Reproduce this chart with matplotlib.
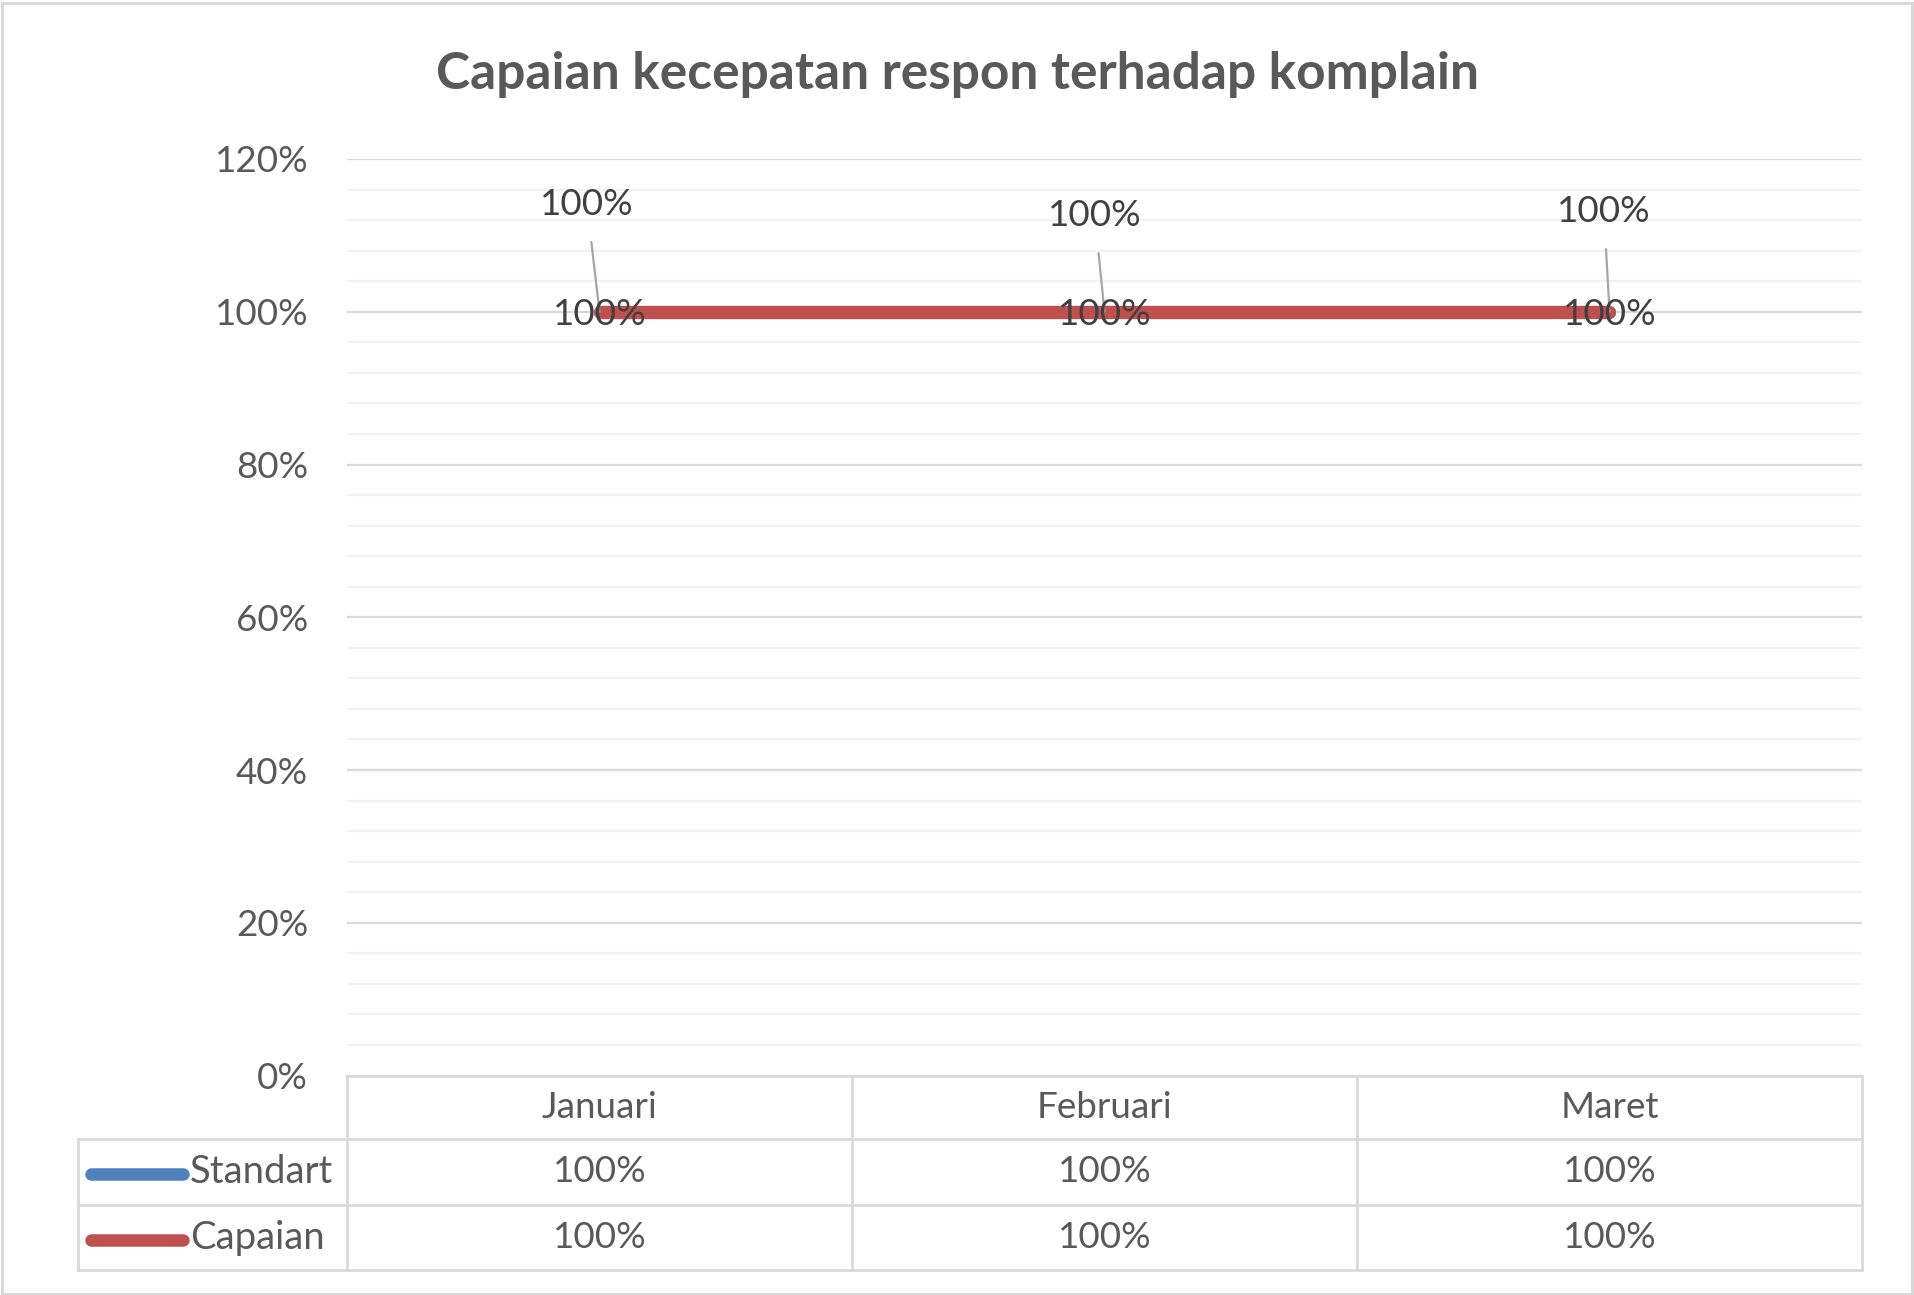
import numpy as np
import matplotlib
matplotlib.use("Agg")
import matplotlib.pyplot as plt
from matplotlib.lines import Line2D
from matplotlib.patches import Rectangle

plt.rcParams['font.family'] = ['Lato', 'DejaVu Sans']

months = ['Januari', 'Februari', 'Maret']
standart = [1.00, 1.00, 1.00]
capaian = [1.00, 1.00, 1.00]
series_names = ['Standart', 'Capaian']
series_colors = ['#4F81BD', '#C0504D']

W, H = 1914, 1295
fig = plt.figure(figsize=(W / 100, H / 100), dpi=100)

def fx(px):
    return px / W

def fy(py):
    return 1 - py / H

fs = 26.5
left, right, top, bottom = 347, 1862, 159, 1075.5
ax = fig.add_axes([fx(left), fy(bottom), fx(right - left), (bottom - top) / H])

x = np.arange(len(months))
ax.plot(x, standart, color=series_colors[0], lw=9.5, solid_capstyle='round', zorder=3)
ax.plot(x, capaian, color=series_colors[1], lw=9.5, solid_capstyle='round', zorder=4)

ax.set_xlim(-0.5, len(months) - 0.5)
ax.set_ylim(0, 1.2)
ax.set_yticks(np.arange(0, 1.21, 0.2))
ax.set_yticklabels([f'{int(round(v * 100))}%' for v in np.arange(0, 1.21, 0.2)])
ax.set_yticks(np.arange(0, 1.21, 0.04), minor=True)
ax.tick_params(axis='y', which='both', length=0, pad=28, labelsize=fs, labelcolor='#595959')
ax.tick_params(axis='x', length=0, labelbottom=False)
ax.grid(axis='y', which='major', color='#D9D9D9', lw=1.6, zorder=0)
ax.grid(axis='y', which='minor', color='#F2F2F2', lw=1.6, zorder=0)
ax.set_axisbelow(True)
for s in ax.spines.values():
    s.set_visible(False)

# data labels for Standart with leader lines (offsets in points)
offsets = [(-9, 77), (-7, 69), (-4, 72)]
for i, v in enumerate(standart):
    dx, dy = offsets[i]
    ax.annotate(f'{int(round(v * 100))}%', xy=(x[i], v), xytext=(dx, dy),
                textcoords='offset points', ha='center', va='center',
                fontsize=fs, color='#404040', zorder=6,
                arrowprops=dict(arrowstyle='-', color='#A6A6A6', lw=1.6,
                                shrinkA=13, shrinkB=0))
for i, v in enumerate(capaian):
    ax.annotate(f'{int(round(v * 100))}%', xy=(x[i], v), xytext=(0, -2),
                textcoords='offset points', ha='center', va='center',
                fontsize=fs, color='#404040', zorder=6)

# data table below the chart
grid_c = '#D9D9D9'
rows_y = [1075.5, 1139, 1205, 1270]
col_x = [left + (right - left) * k / len(months) for k in range(len(months) + 1)]
table_left = 78

def hline(y, x0, x1):
    fig.add_artist(Line2D([fx(x0), fx(x1)], [fy(y), fy(y)], color=grid_c, lw=2))

def vline(xp, y0, y1):
    fig.add_artist(Line2D([fx(xp), fx(xp)], [fy(y0), fy(y1)], color=grid_c, lw=2))

hline(rows_y[0], left, right)
for y in rows_y[1:]:
    hline(y, table_left, right)
for xp in col_x:
    vline(xp, rows_y[0], rows_y[3])
vline(table_left, rows_y[1], rows_y[3])

for j, m in enumerate(months):
    cx = (col_x[j] + col_x[j + 1]) / 2
    fig.text(fx(cx), fy((rows_y[0] + rows_y[1]) / 2), m, ha='center', va='center',
             fontsize=fs, color='#595959')

for r, (name, vals, c) in enumerate(zip(series_names, [standart, capaian], series_colors)):
    cy = (rows_y[r + 1] + rows_y[r + 2]) / 2
    fig.add_artist(Line2D([fx(91), fx(183)], [fy(cy + 2), fy(cy + 2)], color=c, lw=9,
                          solid_capstyle='round'))
    fig.text(fx(190), fy(cy), name, ha='left', va='center', fontsize=fs + 1, color='#595959')
    for j, v in enumerate(vals):
        cx = (col_x[j] + col_x[j + 1]) / 2
        fig.text(fx(cx), fy(cy), f'{int(round(v * 100))}%', ha='center', va='center',
                 fontsize=fs, color='#595959')

fig.text(0.5, fy(75), 'Capaian kecepatan respon terhadap komplain', ha='center', va='center',
         fontsize=37, fontweight='bold', color='#595959')

fig.add_artist(Rectangle((fx(1.5), fy(1293.5)), fx(1910), 1291 / H, fill=False,
                         edgecolor='#D9D9D9', lw=2.2))

fig.savefig('out.png', dpi=100, facecolor='white')
